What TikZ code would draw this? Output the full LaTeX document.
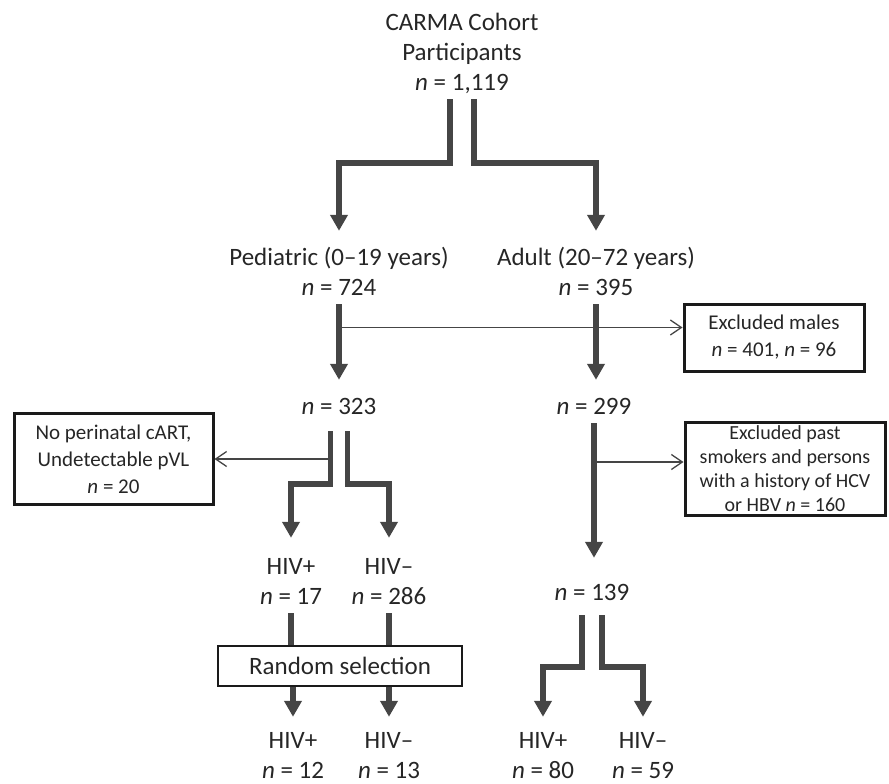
\documentclass[tikz,border=0pt]{standalone}
\usepackage{fontspec}
\setmainfont{Carlito}
\usetikzlibrary{arrows.meta, positioning}

\definecolor{flowgray}{HTML}{454545}
\definecolor{boxblack}{HTML}{1A1A1A}
\definecolor{textgray}{HTML}{262626}

\begin{document}
\begin{tikzpicture}[x=1pt, y=-1pt,
	every node/.style={text=textgray},
	lbl/.style={align=center, inner sep=0pt, font=\fontsize{25}{30}\selectfont},
	exbox/.style={draw=boxblack, line width=3pt, align=center, inner sep=0pt, font=\fontsize{21}{27}\selectfont},
	selbox/.style={draw=boxblack, line width=1.5pt, inner sep=0pt, minimum width=244pt, minimum height=40pt, font=\fontsize{25}{30}\selectfont},
	fat/.style={draw=flowgray, line width=5.5pt, -{Triangle[width=17pt, length=16pt]}, shorten >=13pt},
	fatline/.style={draw=flowgray, line width=5.5pt},
	thin/.style={draw=flowgray, line width=1.3pt, -{Straight Barb[width=15pt, length=11pt]}}]

	\useasboundingbox (0,0) rectangle (889,784);

	% labels
	\node [lbl] (cohort) at (462,54) {\strut CARMA Cohort\\\strut Participants\\\strut\textit{n} = 1,119};
	\node [lbl] (ped) at (339,274) {\strut Pediatric (0--19 years)\\\strut\textit{n} = 724};
	\node [lbl] (adult) at (596,274) {\strut Adult (20--72 years)\\\strut\textit{n} = 395};
	\node [lbl] (n323) at (339,408) {\strut\textit{n} = 323};
	\node [lbl] (n299) at (594,408) {\strut\textit{n} = 299};
	\node [lbl] (hivpa) at (291,583) {\strut HIV+\\\strut\textit{n} = 17};
	\node [lbl] (hivma) at (389,583) {\strut HIV--\\\strut\textit{n} = 286};
	\node [lbl] (n139) at (592,594) {\strut\textit{n} = 139};
	\node [selbox] (rand) at (340,666) {Random selection};
	\node [lbl] (hivpb) at (293,757) {\strut HIV+\\\strut\textit{n} = 12};
	\node [lbl] (hivmb) at (389,757) {\strut HIV--\\\strut\textit{n} = 13};
	\node [lbl] (hivpc) at (543,757) {\strut HIV+\\\strut\textit{n} = 80};
	\node [lbl] (hivmc) at (643,757) {\strut HIV--\\\strut\textit{n} = 59};

	% exclusion boxes
	\node [exbox, minimum width=180pt, minimum height=67pt] (exmales) at (774,337.5) {Excluded males\\\textit{n} = 401, \textit{n} = 96};
	\node [exbox, minimum width=199pt, minimum height=91pt] (noperi) at (113.5,459) {No perinatal cART,\\Undetectable pVL\\\textit{n} = 20};
	\node [exbox, font=\fontsize{20}{24}\selectfont, minimum width=200pt, minimum height=93pt] (exsmoke) at (785,469) {Excluded past\\smokers and persons\\with a history of HCV\\or HBV \textit{n} = 160};

	% main flow
	\draw [fat] ([xshift=-12pt]cohort.south) -- ++(0,64) -| (ped.north);
	\draw [fat] ([xshift=12pt]cohort.south) -- ++(0,64) -| (adult.north);
	\draw [fat] (ped.south) -- (n323.north);
	\draw [fat] (adult.south) -- (adult.south |- n299.north);
	\draw [fat, shorten >=21pt] (n299.south) -- (n299.south |- n139.north);

	\draw [fat, shorten >=15pt] ([xshift=-8.5pt, yshift=-8pt]n323.south) -- ++(0,53) -| (hivpa.north);
	\draw [fat, shorten >=15pt] ([xshift=8.5pt, yshift=-8pt]n323.south) -- ++(0,53) -| (hivma.north);
	\draw [fat, shorten >=10pt] ([xshift=-10pt, yshift=-6pt]n139.south) -- ++(0,52) -| (hivpc.north);
	\draw [fat, shorten >=10pt] ([xshift=10pt, yshift=-6pt]n139.south) -- ++(0,52) -| (hivmc.north);

	\draw [fatline] (hivpa.south) -- (hivpa.south |- rand.north);
	\draw [fatline] (hivma.south) -- (hivma.south |- rand.north);
	\draw [fat, shorten >=10pt] (rand.south -| hivpb.north) -- (hivpb.north);
	\draw [fat, shorten >=10pt] (rand.south -| hivmb.north) -- (hivmb.north);

	% exclusions
	\draw [thin] ([yshift=10pt]exmales.west -| ped.south) -- ([yshift=10pt]exmales.west);
	\draw [thin] ([xshift=-8.5pt]n323.south |- noperi.east) -- (noperi.east);
	\draw [thin] ([yshift=7pt]exsmoke.west -| n299.south) -- ([yshift=7pt]exsmoke.west);

\end{tikzpicture}
\end{document}
